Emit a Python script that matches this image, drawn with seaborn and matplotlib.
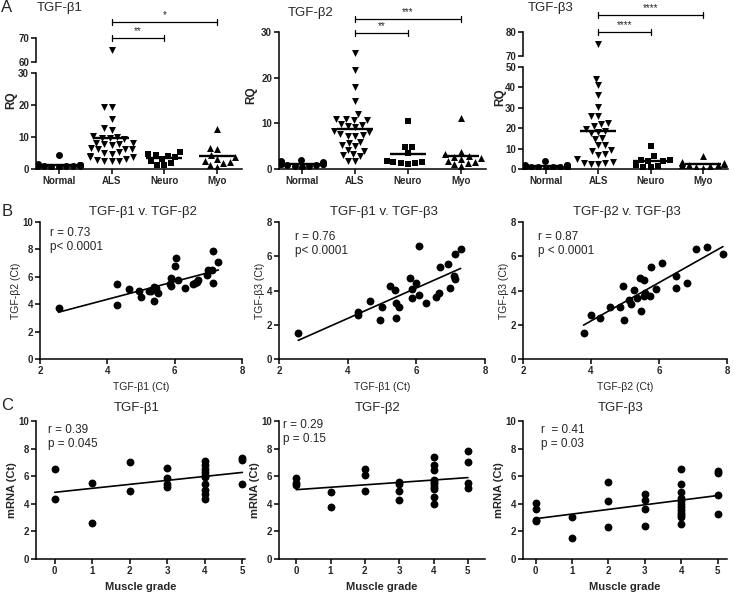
import numpy as np
import matplotlib
matplotlib.use('Agg')
import matplotlib.pyplot as plt
import seaborn as sns

# ---- A: relative quantity (RQ) per group ----
groups = ['Normal', 'ALS', 'Neuro', 'Myo']
group_markers = ['o', 'v', 's', '^']

tgfb1_normal = [4.3, 1.5, 1.4, 1.3, 1.2, 1.2, 1.1, 1.0, 1.0, 0.9, 0.8, 0.8, 0.7, 0.6, 1.3, 1.1]
tgfb1_als = [65, 19.5, 19.5, 15.5, 12.8, 12.3, 10.2, 10.0, 9.8, 9.6, 9.3, 8.2, 8.0, 7.9, 7.7, 7.5,
             6.6, 6.4, 6.3, 6.1, 5.2, 5.0, 4.8, 4.2, 3.9, 3.7, 3.0, 2.8, 2.6, 2.5, 2.4]
tgfb1_neuro = [5.4, 4.8, 4.5, 4.2, 3.8, 3.2, 2.6, 2.0, 1.3, 1.2]
tgfb1_myo = [12.4, 6.5, 6.2, 4.3, 3.8, 3.2, 2.6, 2.2, 1.8, 1.2, 0.6]

tgfb2_normal = [2.0, 1.8, 1.6, 1.5, 1.4, 1.2, 1.1, 1.0, 0.9, 0.8, 0.7, 0.6, 0.5, 1.3, 1.0]
tgfb2_als = [25.3, 21.7, 17.9, 14.8, 12.0, 11.0, 11.0, 10.8, 10.8, 9.8, 9.6, 9.5, 9.3, 8.4, 8.2,
             7.6, 7.4, 7.3, 7.2, 6.0, 5.8, 5.2, 5.0, 4.2, 4.0, 3.2, 3.0, 2.8, 1.8, 1.7]
tgfb2_neuro = [10.6, 4.9, 4.8, 3.4, 1.8, 1.6, 1.5, 1.4, 1.3, 1.2]
tgfb2_myo = [11.2, 3.8, 3.2, 2.8, 2.6, 2.5, 2.2, 1.6, 1.3, 1.0, 0.6, 1.8]

tgfb3_normal = [4.0, 2.2, 2.0, 1.8, 1.7, 1.5, 1.4, 1.3, 1.2, 1.0, 0.9, 0.8, 0.6, 1.6, 1.1]
tgfb3_als = [75.2, 44.2, 41.0, 36.5, 30.5, 26.2, 26.0, 22.4, 22.2, 21.0, 19.8, 18.6, 18.2, 17.6,
             15.2, 14.6, 12.0, 11.6, 9.2, 8.8, 7.2, 6.8, 4.8, 3.4, 3.0, 2.6, 2.4, 2.8]
tgfb3_neuro = [11.3, 6.2, 4.5, 4.2, 4.0, 3.8, 2.0, 1.5, 1.2, 0.8]
tgfb3_myo = [6.6, 3.5, 3.0, 2.8, 2.5, 2.2, 2.0, 1.8, 1.5, 1.0, 0.5]

# ---- B: correlations between isoforms (Ct) ----
b1_tgfb1 = [2.55, 4.3, 4.3, 4.65, 4.95, 5.0, 5.25, 5.3, 5.4, 5.4, 5.45, 5.5, 5.85, 5.9, 5.9,
            6.0, 6.05, 6.1, 6.3, 6.55, 6.6, 6.65, 6.7, 6.95, 7.0, 7.1, 7.15, 7.15, 7.3]
b1_tgfb2 = [3.75, 5.45, 3.95, 5.1, 4.95, 4.5, 4.95, 5.0, 5.25, 4.25, 5.15, 4.85, 5.45, 5.35, 5.9,
            6.8, 7.4, 5.75, 5.15, 5.5, 5.55, 5.6, 5.75, 6.1, 6.5, 6.5, 7.85, 5.55, 7.05]

b2_tgfb1 = [2.56, 4.3, 4.3, 4.66, 4.95, 5.0, 5.24, 5.37, 5.4, 5.4, 5.49, 5.83, 5.87, 5.88, 6.0,
            6.07, 6.08, 6.29, 6.56, 6.66, 6.68, 6.92, 6.98, 7.1, 7.14, 7.14, 7.29]
b2_tgfb3 = [1.5, 2.76, 2.56, 3.38, 2.27, 3.05, 4.25, 4.02, 3.28, 2.37, 3.05, 4.74, 3.59, 4.06, 4.45,
            6.6, 3.71, 3.26, 3.63, 3.83, 5.38, 5.57, 4.17, 4.87, 4.66, 6.16, 6.41]

b3_tgfb2 = [3.78, 4.0, 4.25, 4.55, 4.85, 4.95, 4.97, 5.12, 5.18, 5.25, 5.35, 5.45, 5.55, 5.48,
            5.55, 5.6, 5.75, 5.73, 5.9, 6.1, 6.5, 6.5, 6.82, 7.1, 7.42, 7.88]
b3_tgfb3 = [1.5, 2.56, 2.37, 3.05, 3.05, 4.25, 2.27, 3.44, 3.24, 4.02, 3.57, 4.74, 4.64, 2.8,
            3.67, 3.83, 5.38, 3.69, 4.06, 5.61, 4.83, 4.17, 4.45, 6.41, 6.56, 6.16]

# ---- C: mRNA vs muscle grade ----
c1_grade = [0, 0, 1, 1, 2, 2, 3, 3, 3, 3, 4, 4, 4, 4, 4, 4, 4, 4, 4, 4, 5, 5, 5]
c1_mrna = [6.55, 4.35, 5.5, 2.6, 7.0, 4.95, 6.6, 5.85, 5.4, 5.25, 7.1, 6.8, 6.55, 6.3, 6.1, 5.95,
           5.4, 5.0, 4.7, 4.35, 7.3, 7.15, 5.45]

c2_grade = [0, 0, 0, 1, 1, 2, 2, 2, 3, 3, 3, 3, 4, 4, 4, 4, 4, 4, 4, 4, 4, 4, 5, 5, 5, 5]
c2_mrna = [5.85, 5.5, 5.35, 4.85, 3.75, 6.5, 6.1, 4.95, 5.55, 5.4, 4.95, 4.25, 7.4, 6.8, 6.45,
           5.75, 5.55, 5.4, 5.2, 5.05, 4.5, 3.95, 7.85, 7.05, 5.5, 5.15]

c3_grade = [0, 0, 0, 0, 1, 1, 2, 2, 2, 3, 3, 3, 3, 4, 4, 4, 4, 4, 4, 4, 4, 4, 4, 4, 4, 5, 5, 5, 5]
c3_mrna = [4.05, 3.6, 2.8, 2.75, 3.05, 1.5, 5.6, 4.2, 2.3, 4.7, 4.25, 3.65, 2.4, 6.55, 5.4, 4.85,
           4.45, 4.2, 3.95, 3.8, 3.55, 3.35, 3.2, 3.05, 2.55, 6.4, 6.2, 4.65, 3.25]

sns.set_style('ticks')
plt.rcParams['font.family'] = ['Liberation Sans', 'DejaVu Sans']
plt.rcParams['axes.linewidth'] = 1.1
plt.rcParams['axes.edgecolor'] = 'black'

W, H = 734, 593
fig = plt.figure(figsize=(W / 100, H / 100), dpi=100)


def box(x0, y0, x1, y1):
    # pixel box -> figure fraction
    return [x0 / W, 1 - y1 / H, (x1 - x0) / W, (y1 - y0) / H]


def ftext(x, y, s, **kw):
    fig.text(x / W, 1 - y / H, s, **kw)


def style(ax, bottom=True):
    sns.despine(ax=ax)
    ax.tick_params(direction='out', length=3.5, width=1.1, color='black', labelsize=7, pad=1.5)
    for lab in ax.get_xticklabels() + ax.get_yticklabels():
        lab.set_fontweight('bold')
    if not bottom:
        ax.spines['bottom'].set_visible(False)
        ax.tick_params(axis='x', bottom=False, labelbottom=False)


def draw_groups(ax, data, lo, hi, ticks):
    for g, m in zip(groups, group_markers):
        vals = [v for v in data[g] if lo <= v <= hi]
        if vals:
            sns.swarmplot(x=[g] * len(vals), y=vals, order=groups, marker=m,
                          color='black', size=5.0, linewidth=0, ax=ax)
    ax.set_ylim(lo, hi)
    ax.set_xlim(-0.43, 3.47)
    ax.set_yticks(ticks)
    ax.set_ylabel('')


def draw_means(ax, data):
    pos = np.arange(len(groups))
    means = [np.mean(data[g]) for g in groups]
    ax.hlines(means, pos - 0.34, pos + 0.34, color='black', lw=1.7, zorder=5)


def bracket(ax, i, j, y, cap, label):
    ax.plot([i, j], [y, y], color='black', lw=0.9, clip_on=False)
    ax.plot([i, i], [y - cap, y + cap], color='black', lw=0.9, clip_on=False)
    ax.plot([j, j], [y - cap, y + cap], color='black', lw=0.9, clip_on=False)
    ax.text((i + j) / 2, y + cap * 0.6, label, ha='center', va='bottom', fontsize=7)


als = groups.index('ALS')

# A1
d1 = dict(zip(groups, [tgfb1_normal, tgfb1_als, tgfb1_neuro, tgfb1_myo]))
ax = fig.add_axes(box(36, 73, 242, 169))
draw_groups(ax, d1, 0, 30, [0, 10, 20, 30])
draw_means(ax, d1)
style(ax)
axh = fig.add_axes(box(36, 38, 242, 62))
draw_groups(axh, d1, 60, 70, [60, 70])
style(axh, bottom=False)
bracket(axh, als, groups.index('Neuro'), 70, 1.3, '**')
bracket(axh, als, groups.index('Myo'), 76.7, 1.3, '*')

# A2
d2 = dict(zip(groups, [tgfb2_normal, tgfb2_als, tgfb2_neuro, tgfb2_myo]))
ax = fig.add_axes(box(279, 32, 486, 169))
draw_groups(ax, d2, 0, 30, [0, 10, 20, 30])
draw_means(ax, d2)
style(ax)
bracket(ax, als, groups.index('Neuro'), 29.8, 0.65, '**')
bracket(ax, als, groups.index('Myo'), 32.8, 0.65, '***')

# A3
d3 = dict(zip(groups, [tgfb3_normal, tgfb3_als, tgfb3_neuro, tgfb3_myo]))
ax = fig.add_axes(box(523, 67, 728, 169))
draw_groups(ax, d3, 0, 50, [0, 10, 20, 30, 40, 50])
draw_means(ax, d3)
style(ax)
axh = fig.add_axes(box(523, 32, 728, 56))
draw_groups(axh, d3, 70, 80, [70, 80])
style(axh, bottom=False)
bracket(axh, als, groups.index('Neuro'), 80, 1.3, '****')
bracket(axh, als, groups.index('Myo'), 87.1, 1.3, '****')

for x, y in [(11, 100), (251, 95), (500, 97)]:
    ftext(x, y, 'RQ', rotation=90, ha='center', va='center', fontsize=8.5, fontweight='bold')

ftext(7, 8, 'A', ha='center', va='center', fontsize=12)
ftext(60, 8, 'TGF-β1', ha='center', va='center', fontsize=9.5)
ftext(311, 13, 'TGF-β2', ha='center', va='center', fontsize=9.5)
ftext(551, 8, 'TGF-β3', ha='center', va='center', fontsize=9.5)

# B
scatter_kw = {'s': 32, 'color': 'black', 'alpha': 1, 'linewidths': 0, 'clip_on': False}
line_kw = {'color': 'black', 'lw': 1.2}
b_panels = [
    ((40, 222, 242, 359), b1_tgfb1, b1_tgfb2, 10, 'TGF-β1 (Ct)', 'TGF-β2 (Ct)',
     'TGF-β1 v. TGF-β2', 'r = 0.73\np< 0.0001', (50, 227)),
    ((279, 222, 485, 359), b2_tgfb1, b2_tgfb3, 8, 'TGF-β1 (Ct)', 'TGF-β3 (Ct)',
     'TGF-β1 v. TGF-β3', 'r = 0.76\np< 0.0001', (295, 231)),
    ((523, 222, 727, 359), b3_tgfb2, b3_tgfb3, 8, 'TGF-β2 (Ct)', 'TGF-β3 (Ct)',
     'TGF-β2 v. TGF-β3', 'r = 0.87\np < 0.0001', (538, 231)),
]
for pbox, xs, ys, ytop, xl, yl, title, stat, (tx, ty) in b_panels:
    ax = fig.add_axes(box(*pbox))
    sns.regplot(x=xs, y=ys, ci=None, ax=ax, scatter_kws=scatter_kw, line_kws=line_kw)
    ax.set_xlim(2, 8)
    ax.set_ylim(0, ytop)
    ax.set_xticks([2, 4, 6, 8])
    ax.set_yticks(np.arange(0, ytop + 1, 2))
    style(ax)
    ax.set_xlabel(xl, fontsize=7.5, labelpad=4)
    ax.set_ylabel(yl, fontsize=7.5, labelpad=1)
    ftext(tx, ty, stat, ha='left', va='top', fontsize=8.5, linespacing=1.2)
    ftext((pbox[0] + pbox[2]) / 2 + 2, 212, title, ha='center', va='center', fontsize=9.5)

ftext(7, 212, 'B', ha='center', va='center', fontsize=12)

# C
c_panels = [
    ((36, 421, 245, 559), c1_grade, c1_mrna, (-0.5, 5.07), 'TGF-β1', 'r = 0.39\np = 0.045', (48, 424)),
    ((279, 421, 485, 559), c2_grade, c2_mrna, (-0.5, 5.5), 'TGF-β2', 'r = 0.29\np = 0.15', (283, 419)),
    ((523, 421, 727, 559), c3_grade, c3_mrna, (-0.35, 5.26), 'TGF-β3', 'r  = 0.41\np = 0.03', (541, 424)),
]
for pbox, xs, ys, xlim, title, stat, (tx, ty) in c_panels:
    ax = fig.add_axes(box(*pbox))
    sns.regplot(x=xs, y=ys, ci=None, ax=ax, scatter_kws=scatter_kw, line_kws=line_kw)
    ax.set_xlim(*xlim)
    ax.set_ylim(0, 10)
    ax.set_xticks(range(6))
    ax.set_yticks(range(0, 11, 2))
    style(ax)
    ax.set_xlabel('Muscle grade', fontsize=8, fontweight='bold', labelpad=4)
    ax.set_ylabel('mRNA (Ct)', fontsize=8, fontweight='bold', labelpad=1)
    ftext(tx, ty, stat, ha='left', va='top', fontsize=8.5, linespacing=1.2)
    ftext((pbox[0] + pbox[2]) / 2 - 4, 408, title, ha='center', va='center', fontsize=9.5)

ftext(7, 406, 'C', ha='center', va='center', fontsize=12)

fig.savefig('out.png', dpi=100)
